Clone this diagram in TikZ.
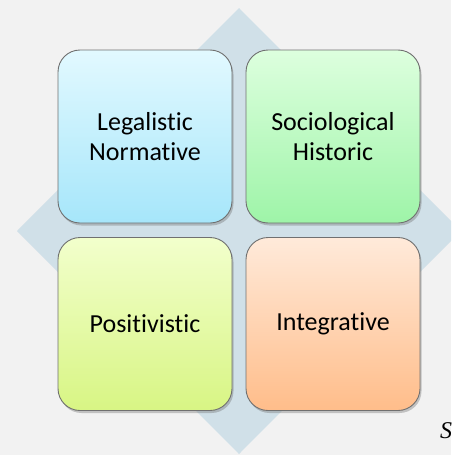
\documentclass[tikz,border=0pt]{standalone}
\usepackage{fontspec}
\setmainfont{Carlito}[Ligatures=NoCommon]
\newfontfamily\srcfont{Liberation Serif}
\usetikzlibrary{shadows}
\definecolor{bg}{HTML}{F2F2F2}
\definecolor{dia}{HTML}{D0E0E8}
\definecolor{edge}{HTML}{707070}
\tikzset{
  quad/.style={draw=edge, line width=0.9pt, rounded corners=22pt,
    minimum width=174pt, minimum height=173pt, inner sep=0pt,
    align=center, font=\fontsize{26}{30}\selectfont, text=black,
    drop shadow={opacity=0.35, shadow xshift=1.5pt, shadow yshift=-2.5pt, fill=black!60}},
}
\begin{document}
\begin{tikzpicture}[x=1pt,y=-1pt]
\useasboundingbox (0,0) rectangle (451,455);
\fill[bg] (0,0) rectangle (451,455);
\begin{scope}
\clip (0,0) rectangle (451,455);
\fill[dia] (239,8) -- (461,231) -- (239,454) -- (17,231) -- cycle;
\node[quad, top color={rgb,255:red,226;green,249;blue,255}, bottom color={rgb,255:red,166;green,230;blue,250}] (tl) at (145,136.5) {Legalistic\\Normative};
\node[quad, top color={rgb,255:red,221;green,255;blue,222}, bottom color={rgb,255:red,158;green,244;blue,168}] (tr) at (333,136.5) {Sociological\\Historic};
\node[quad, top color={rgb,255:red,242;green,255;blue,204}, bottom color={rgb,255:red,216;green,245;blue,132}] (bl) at (145,324) {Positivistic};
\node[quad, top color={rgb,255:red,255;green,234;blue,218}, bottom color={rgb,255:red,255;green,189;blue,138}] (br) at (333,324) {Integrative};
\node[anchor=base west, inner sep=0pt, font=\srcfont\itshape\fontsize{24}{28}\selectfont] (src) at (440,438) {S};
\end{scope}
\end{tikzpicture}
\end{document}
